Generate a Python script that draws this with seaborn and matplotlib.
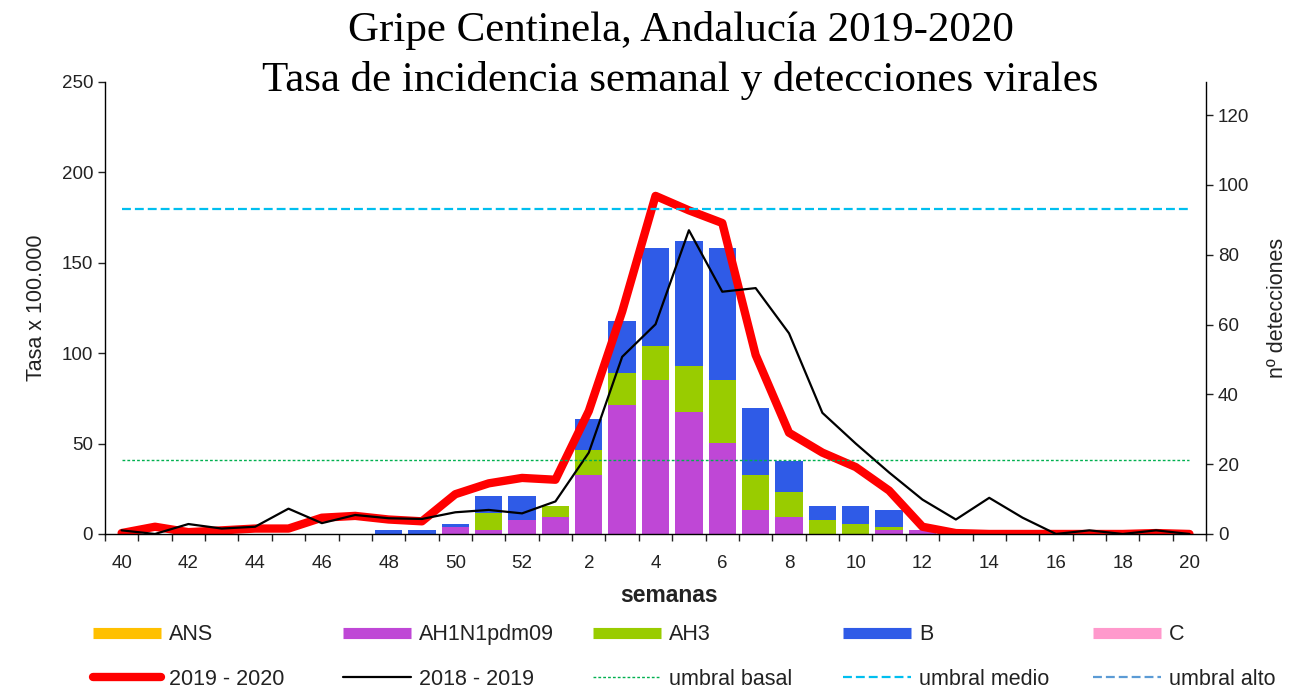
import numpy as np
import pandas as pd
import matplotlib
matplotlib.use("Agg")
import matplotlib.pyplot as plt
from matplotlib.lines import Line2D
import seaborn as sns

# semanas epidemiologicas, temporada 2019-2020
weeks = list(range(40, 53)) + list(range(1, 21))

# tasa x 100.000 (eje izquierdo)
tasa_1920 = [0.5, 4, 1, 2, 3, 3, 9, 10, 8, 7, 22, 28, 31,
             30, 68, 123, 187, 179, 172, 99, 56, 45, 37, 24, 4, 0.5,
             0, 0, 0, 0, 0, 0.5, 0]
tasa_1819 = [2, 0, 5.5, 3, 4, 14, 6, 10.5, 8.7, 8.3, 12, 13.3, 11.4,
             18, 45, 98, 116, 168, 134, 136, 111, 67, 50, 34, 19, 8,
             20, 9, 0, 2, 0, 2, 0]

# detecciones virales (eje derecho)
det_ans = [0] * 33
det_ah1n1 = [0, 0, 0, 0, 0, 0, 0, 0, 0, 0, 2, 1, 4,
             5, 17, 37, 44, 35, 26, 7, 5, 0, 0, 1, 1, 0,
             0, 0, 0, 0, 0, 0, 0]
det_ah3 = [0, 0, 0, 0, 0, 0, 0, 0, 0, 0, 0, 5, 0,
           3, 7, 9, 10, 13, 18, 10, 7, 4, 3, 1, 0, 0,
           0, 0, 0, 0, 0, 0, 0]
det_b = [0, 0, 0, 0, 0, 0, 0, 0, 1, 1, 1, 5, 7,
         0, 9, 15, 28, 36, 38, 19, 9, 4, 5, 5, 0, 0,
         0, 0, 0, 0, 0, 0, 0]
det_c = [0] * 33

umbral_basal = 41
umbral_medio = 180
umbral_alto = 275  # fuera de escala

tipos = ["ANS", "AH1N1pdm09", "AH3", "B", "C"]
colores = {"ANS": "#FFC000", "AH1N1pdm09": "#BF47D6", "AH3": "#99CC00",
           "B": "#2F5BE7", "C": "#FF99CC"}

idx = np.arange(len(weeks))
det = pd.DataFrame({"idx": idx, "ANS": det_ans, "AH1N1pdm09": det_ah1n1,
                    "AH3": det_ah3, "B": det_b, "C": det_c})
det_long = det.melt(id_vars="idx", var_name="tipo", value_name="n")

sns.set_style("ticks")
plt.rcParams["font.family"] = ["Liberation Sans", "DejaVu Sans"]
for k in ["text.color", "axes.labelcolor", "xtick.color", "ytick.color"]:
    plt.rcParams[k] = "#222222"

fig = plt.figure(figsize=(12.94, 6.89), dpi=100)
ax = fig.add_axes([0.0811, 0.225, 0.851, 0.656])
ax2 = ax.twinx()
ax.set_zorder(ax2.get_zorder() + 1)
ax.patch.set_visible(False)

# barras apiladas de detecciones (seaborn apila el ultimo nivel abajo)
sns.histplot(data=det_long, x="idx", weights="n", hue="tipo",
             hue_order=tipos[::-1], multiple="stack", discrete=True, shrink=0.82,
             palette=colores, alpha=1, linewidth=0, legend=False, ax=ax2)

# tasas
sns.lineplot(x=idx, y=tasa_1920, ax=ax, color="#FF0000", linewidth=6,
             solid_joinstyle="round", solid_capstyle="round")
sns.lineplot(x=idx, y=tasa_1819, ax=ax, color="black", linewidth=1.6)
sns.lineplot(x=idx, y=[umbral_basal] * len(idx), ax=ax, color="#00B050",
             linewidth=1.0, linestyle=(0, (2, 1.5)))
sns.lineplot(x=idx, y=[umbral_medio] * len(idx), ax=ax, color="#00BFEF",
             linewidth=1.6, linestyle=(0, (4, 1.8)))
sns.lineplot(x=idx, y=[umbral_alto] * len(idx), ax=ax, color="#5B9BD5",
             linewidth=1.6, linestyle=(0, (4, 1.8)))

ax.set_xlim(-0.5, len(weeks) - 0.5)
ax.set_ylim(0, 250)
ax2.set_ylim(0, 129.5)
ax.set_yticks(range(0, 251, 50))
ax2.set_yticks(range(0, 121, 20))

ax.set_xticks(idx[::2])
ax.set_xticklabels([str(w) for w in weeks[::2]])
ax.set_xticks(np.arange(-0.5, len(weeks), 1), minor=True)
ax.tick_params(axis="x", which="major", length=0, labelsize=13.5, pad=15)
ax.tick_params(axis="x", which="minor", length=5, width=1, direction="out")
ax.tick_params(axis="y", length=5, width=1, labelsize=13.5, direction="out")
ax2.tick_params(axis="y", length=5, width=1, labelsize=13.5, direction="out")

for s in ["top", "right"]:
    ax.spines[s].set_visible(False)
for s in ["top", "left", "bottom"]:
    ax2.spines[s].set_visible(False)
for a in (ax, ax2):
    for s in a.spines.values():
        s.set_color("black")
        s.set_linewidth(1)

ax.set_xlabel("semanas", fontsize=16.5, fontweight="bold")
ax.set_ylabel("Tasa x 100.000", fontsize=15.5)
ax2.set_ylabel("nº detecciones", fontsize=15.5)
ax.xaxis.set_label_coords((669 - 105) / 1101, -(584 - 534) / 452)
ax.yaxis.set_label_coords((47 - 105) / 1101, 0.5)
ax2.yaxis.set_label_coords((1267 - 105) / 1101, 0.5)

fig.text(0.526, 1 - 30 / 689, "Gripe Centinela, Andalucía 2019-2020",
         ha="center", va="center", fontsize=31, family="Liberation Serif",
         color="black")
fig.text(0.526, 1 - 80 / 689, "Tasa de incidencia semanal y detecciones virales",
         ha="center", va="center", fontsize=31, family="Liberation Serif",
         color="black")

# leyenda en 5 columnas equiespaciadas
h = {t: Line2D([], [], color=colores[t], lw=8, solid_capstyle="butt") for t in tipos}
h["2019 - 2020"] = Line2D([], [], color="#FF0000", lw=6, solid_capstyle="round")
h["2018 - 2019"] = Line2D([], [], color="black", lw=1.6)
h["umbral basal"] = Line2D([], [], color="#00B050", lw=1.0, ls=(0, (2, 1.5)))
h["umbral medio"] = Line2D([], [], color="#00BFEF", lw=1.6, ls=(0, (4, 1.8)))
h["umbral alto"] = Line2D([], [], color="#5B9BD5", lw=1.6, ls=(0, (4, 1.8)))
cols = [("ANS", "2019 - 2020"), ("AH1N1pdm09", "2018 - 2019"),
        ("AH3", "umbral basal"), ("B", "umbral medio"), ("C", "umbral alto")]
for i, pair in enumerate(cols):
    x0 = (93 + 250 * i) / 1294
    fig.legend([h[k] for k in pair], list(pair), loc="center left",
               bbox_to_anchor=(x0, 1 - 657 / 689), frameon=False,
               fontsize=15.5, handlelength=3.16, handletextpad=0.37,
               labelspacing=1.1, borderpad=0, borderaxespad=0)

fig.savefig("out.png", dpi=100, facecolor="white")
